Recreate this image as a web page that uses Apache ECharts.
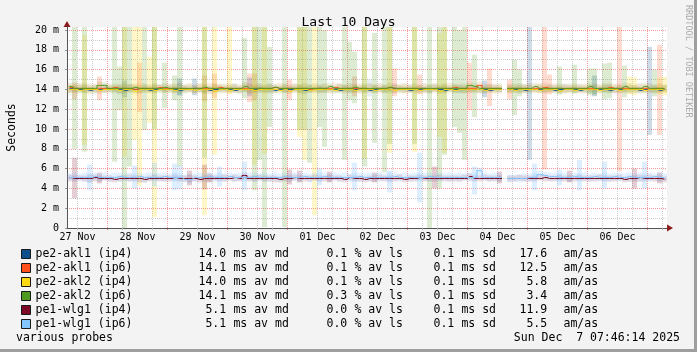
<!DOCTYPE html>
<html>
<head>
<meta charset="utf-8">
<title>Last 10 Days</title>
<script src="https://cdn.jsdelivr.net/npm/echarts@6/dist/echarts.min.js"></script>
<style>
  html, body { margin: 0; padding: 0; background: #f3f3f3; }
  #chart { width: 697px; height: 352px; }
</style>
</head>
<body>
<div id="chart"></div>
<script>
// x values are hours counted from 27 Nov 00:00
const startHour = 7 + 46 / 60 + 14 / 3600;
const spanHours = 240;
const stepHours = 2;
const yMax = 20.3;

const dayLabels = ['27 Nov', '28 Nov', '29 Nov', '30 Nov', '01 Dec', '02 Dec', '03 Dec', '04 Dec', '05 Dec', '06 Dec'];
const yMajor = [0, 2, 4, 6, 8, 10, 12, 14, 16, 18, 20];
const yMinor = [1, 3, 5, 7, 9, 11, 13, 15, 17, 19];

const hostNames = ['pe2-akl1 (ip4)', 'pe2-akl1 (ip6)', 'pe2-akl2 (ip4)', 'pe2-akl2 (ip6)', 'pe1-wlg1 (ip4)', 'pe1-wlg1 (ip6)'];
const avgMedian = ['14.0', '14.1', '14.0', '14.1', '5.1', '5.1'];
const avgLoss = ['0.1', '0.1', '0.1', '0.3', '0.0', '0.0'];
const avgSd = ['0.1', '0.1', '0.1', '0.1', '0.1', '0.1'];
const amas = ['17.6', '12.5', '5.8', '3.4', '11.9', '5.5'];
const footerLeft = 'various probes';
const footerRight = 'Sun Dec  7 07:46:14 2025';
const watermark = 'RRDTOOL / TOBI OETIKER';

// median per 2h sample (ms)
const akl1v4Median = [
  14.1,14.0,14.0,14.0,13.9,14.0,14.0,14.1,14.0,14.0,
  14.0,13.9,14.0,14.0,14.0,14.0,13.9,14.0,14.0,14.0,
  14.0,14.0,13.9,14.0,14.0,14.1,14.0,14.0,13.9,14.0,
  14.0,14.0,14.0,13.9,14.0,14.0,14.0,14.0,14.1,14.0,
  14.0,13.9,14.0,14.0,14.0,14.0,14.0,13.9,14.0,14.0,
  14.1,14.0,14.0,14.0,13.9,14.0,14.0,14.0,14.0,14.0,
  13.9,14.0,14.0,14.0,14.0,14.1,14.0,14.0,13.9,14.0,
  14.0,14.0,14.0,14.0,14.0,13.9,14.0,14.0,14.0,14.0,
  14.0,14.0,14.0,14.0,13.9,14.0,14.0,null,14.0,14.0,
  14.0,13.9,14.0,14.0,14.0,14.0,14.0,13.9,14.0,14.0,
  14.0,14.0,13.9,14.0,14.0,14.0,14.0,14.0,13.9,14.0,
  14.0,14.0,14.0,14.0,13.9,14.0,14.0,14.0,13.9,14.0];
const akl1v6Median = [
  14.2,14.1,14.1,14.1,14.1,14.0,14.1,14.1,14.1,14.2,
  14.1,14.1,14.1,14.0,14.1,14.1,14.1,14.1,14.2,14.1,
  14.1,14.1,14.1,14.1,14.0,14.1,14.1,14.1,14.1,14.1,
  14.2,14.1,14.1,14.1,14.1,14.1,14.0,14.1,14.1,14.1,
  14.1,14.2,14.1,14.1,14.1,14.1,14.1,14.1,14.0,14.1,
  14.1,14.1,14.1,14.2,14.1,14.1,14.1,14.1,14.1,14.1,
  14.0,14.1,14.1,14.1,14.2,14.1,14.1,14.1,14.1,14.1,
  14.1,14.1,14.0,14.1,14.1,14.1,14.1,14.2,14.1,14.1,
  14.1,14.1,14.4,14.1,14.1,14.1,14.1,null,14.1,14.1,
  14.1,14.1,14.0,14.1,14.1,14.2,14.1,14.1,14.1,14.1,
  14.1,14.1,14.1,14.1,14.1,14.0,14.1,14.1,14.2,14.1,
  14.1,14.1,14.1,14.1,14.1,14.1,14.0,14.1,14.1,14.1];
const akl2v4Median = [
  14.0,14.0,13.9,14.0,14.0,14.0,13.9,14.0,14.0,14.0,
  13.9,14.0,14.0,13.8,14.0,14.0,14.0,13.9,14.0,14.0,
  14.0,13.9,14.0,14.0,14.0,13.9,14.0,14.0,14.0,13.8,
  14.0,14.0,13.9,14.0,14.0,14.0,14.0,13.9,14.0,14.0,
  14.0,14.0,13.9,14.0,13.8,14.0,14.0,14.0,13.9,14.0,
  14.0,14.0,14.0,13.9,14.0,14.0,14.0,13.9,14.0,14.0,
  14.0,13.9,14.0,14.0,14.0,13.9,14.0,14.0,14.0,14.0,
  13.9,14.0,14.0,14.0,13.8,14.0,14.0,13.9,14.0,14.0,
  14.0,14.0,14.0,13.9,14.0,14.0,14.0,null,14.0,13.9,
  14.0,14.0,14.0,14.0,13.9,14.0,14.0,14.0,13.8,14.0,
  14.0,13.9,14.0,14.0,14.0,14.0,13.9,14.0,14.0,14.0,
  13.9,14.0,14.0,14.0,14.0,13.9,14.0,14.0,14.0,13.9];
const akl2v6Median = [
  14.3,14.1,14.1,14.1,14.1,14.1,14.4,14.4,14.1,14.1,
  14.1,14.1,14.1,14.2,14.1,14.1,14.1,14.1,14.1,14.2,
  14.1,14.1,14.1,14.1,14.1,14.1,14.1,14.2,14.1,14.1,
  14.1,14.1,14.1,14.1,14.1,14.3,14.1,14.1,14.1,14.1,
  14.1,14.2,14.1,14.1,14.1,14.1,14.1,14.1,14.1,14.1,
  14.1,14.1,14.3,14.1,14.1,14.1,14.1,14.2,14.1,14.1,
  14.1,14.1,14.1,14.1,14.2,14.1,14.1,14.1,14.1,14.1,
  14.1,14.1,14.1,14.1,14.1,14.1,14.1,14.1,14.1,14.1,
  14.4,14.3,14.1,14.1,14.1,14.1,14.1,null,14.1,14.1,
  14.1,14.1,14.1,14.3,14.1,14.1,14.1,14.1,14.1,14.1,
  14.1,14.1,14.1,14.1,14.3,14.1,14.1,14.1,14.1,14.1,
  14.1,14.3,14.1,14.1,14.1,14.3,14.1,14.1,14.1,14.1];
const wlg1v4Median = [
  5.1,5.0,5.0,5.0,5.0,5.1,5.0,5.0,5.0,4.9,
  5.0,5.0,5.0,5.0,5.0,4.9,5.0,5.0,5.0,5.0,
  5.0,5.1,5.0,5.0,5.0,5.0,4.9,5.0,5.0,5.0,
  5.0,5.0,5.0,5.1,5.0,5.3,5.0,5.0,5.0,5.0,
  5.0,5.0,4.9,5.0,5.0,5.1,5.0,5.0,5.0,5.0,
  5.0,5.0,5.0,5.0,5.0,4.9,5.1,5.0,5.0,4.9,
  5.0,5.0,5.0,5.0,5.0,5.0,5.0,4.9,5.0,5.0,
  5.1,5.0,5.0,5.0,5.0,5.0,5.0,5.0,5.0,5.0,
  5.2,5.0,5.0,5.0,5.0,5.0,5.0,null,5.0,5.0,
  5.0,5.0,5.0,5.0,5.0,5.1,5.0,5.0,5.0,5.0,
  5.0,5.0,5.0,5.0,5.0,5.0,5.0,5.0,5.0,5.0,
  5.0,4.9,5.0,5.0,5.1,5.0,5.0,5.0,5.0,4.9];
const wlg1v6Median = [
  5.1,5.1,5.1,5.1,5.1,5.2,5.1,5.1,5.1,5.1,
  5.2,5.1,5.1,5.1,5.2,5.1,5.1,5.1,5.1,5.2,
  5.1,5.1,5.1,4.9,4.9,5.1,5.1,5.1,5.2,5.1,
  5.1,5.1,5.2,5.1,5.1,5.1,5.1,5.2,5.1,5.1,
  5.1,5.1,5.1,5.2,5.1,5.1,5.1,5.2,5.1,5.1,
  5.1,5.2,5.1,5.1,5.1,5.1,5.1,5.1,5.2,5.1,
  5.1,5.1,5.1,5.1,5.1,5.2,5.1,5.1,5.1,5.1,
  5.1,5.1,5.2,5.1,5.1,5.1,5.1,5.1,5.1,5.1,
  5.1,5.1,5.8,5.1,5.1,5.1,5.1,null,5.0,5.0,
  5.0,5.0,5.1,5.1,5.4,5.3,5.2,5.2,5.1,5.1,
  5.1,5.2,5.1,5.1,5.1,5.2,5.1,5.1,5.1,5.2,
  5.1,5.1,5.2,5.1,5.1,5.1,5.1,5.2,5.1,5.1];

// smoke band low / high per sample (ms)
const akl1v4Low = [
  13.7,13.8,13.7,13.6,13.8,13.7,13.8,13.7,13.7,13.8,
  13.5,13.7,13.8,13.7,13.6,13.8,13.7,13.7,13.8,13.7,
  13.8,13.7,13.4,13.7,13.8,13.7,13.7,13.6,13.8,13.7,
  13.7,13.8,13.7,13.7,13.6,13.8,13.7,13.7,13.8,13.7,
  13.7,13.6,13.8,13.7,13.7,13.8,13.7,13.5,13.7,13.8,
  13.7,13.7,13.8,13.6,13.7,13.8,13.7,13.7,13.8,13.7,
  13.3,13.7,13.8,13.7,13.7,13.6,13.8,13.7,13.7,13.8,
  13.7,13.7,13.6,13.8,13.7,13.7,13.8,13.7,13.6,13.7,
  13.7,13.8,13.7,13.6,13.7,13.8,13.7,null,13.7,13.8,
  13.7,13.6,13.7,13.8,13.7,13.7,13.8,13.7,13.6,13.7,
  13.7,13.8,13.7,13.7,13.6,13.5,13.8,13.7,13.7,13.6,
  13.7,13.8,13.7,13.7,13.6,13.7,13.8,13.7,13.7,13.8];
const akl1v4High = [
  14.4,14.3,14.4,14.5,14.3,14.4,14.3,14.6,14.4,14.3,
  14.4,14.3,14.5,14.4,14.3,14.4,14.3,14.4,14.5,14.3,
  14.4,14.3,14.6,14.4,14.3,14.4,14.3,14.4,14.3,14.5,
  14.4,14.3,14.4,14.5,14.3,14.4,14.4,14.3,14.4,14.3,
  14.5,14.4,14.3,14.4,14.3,14.4,14.5,14.3,14.4,14.3,
  14.4,14.3,14.4,14.3,14.5,14.4,14.3,14.4,14.3,14.4,
  15.0,14.4,14.3,14.4,14.3,14.5,14.4,14.3,14.4,14.3,
  14.4,14.3,14.4,14.5,14.3,14.4,14.3,14.4,14.4,14.3,
  14.4,14.3,14.4,14.3,14.5,14.4,14.3,null,14.4,14.3,
  14.4,14.5,14.4,14.3,14.4,14.3,14.4,14.4,14.3,14.5,
  14.4,14.3,14.4,14.3,14.4,14.4,14.3,14.4,14.5,14.3,
  14.4,14.3,14.4,14.4,14.3,14.4,14.3,14.4,14.3,14.4];
const akl1v6Low = [
  13.7,13.6,13.8,13.7,13.6,13.7,13.5,13.7,13.8,13.7,
  13.6,13.7,13.7,13.8,13.6,13.7,13.7,13.6,13.8,13.7,
  13.7,13.6,13.7,13.8,13.7,13.6,13.7,13.7,13.5,13.7,
  13.8,13.7,13.6,13.7,13.7,13.8,13.6,13.7,13.7,13.6,
  13.7,13.7,13.8,13.6,13.7,13.7,13.6,13.8,13.7,13.7,
  13.6,13.7,13.7,13.8,13.7,13.6,13.7,13.7,13.6,13.8,
  13.7,13.7,13.6,13.7,13.8,13.7,13.7,13.6,13.7,13.7,
  13.8,13.6,13.7,13.7,13.7,13.6,13.8,13.7,13.7,13.6,
  13.7,13.7,13.6,13.7,13.8,13.7,13.6,null,13.7,13.7,
  13.6,13.7,13.8,13.7,13.7,13.6,13.7,13.7,13.8,13.6,
  13.7,13.7,13.6,13.7,13.7,13.8,13.6,13.7,13.7,13.6,
  13.7,13.6,13.7,13.8,13.7,13.7,13.6,13.7,13.7,13.7];
const akl1v6High = [
  14.6,14.5,14.6,14.7,14.5,14.6,14.8,14.5,14.6,14.5,
  14.6,14.5,14.6,14.5,14.7,14.6,14.5,14.6,14.5,14.6,
  14.5,14.6,14.7,14.5,14.6,14.5,14.6,14.5,14.7,14.6,
  14.6,14.5,14.6,14.6,14.5,14.7,14.6,14.5,14.6,14.5,
  14.6,14.5,14.7,14.6,14.5,14.6,14.5,14.6,14.5,14.6,
  14.5,14.6,14.5,14.7,14.6,14.5,14.6,14.5,14.6,14.5,
  14.6,14.5,14.6,14.5,14.7,14.6,14.5,14.6,14.5,14.6,
  14.5,14.6,14.5,14.6,14.5,14.6,14.7,14.5,14.6,14.5,
  14.6,14.5,14.8,14.6,14.5,14.6,14.5,null,14.6,14.5,
  14.6,14.5,14.6,14.5,14.6,14.7,14.5,14.6,14.5,14.6,
  14.5,14.6,14.5,14.6,14.5,14.6,14.5,14.6,14.7,14.5,
  14.6,14.5,14.6,14.5,14.6,14.5,14.6,14.5,14.6,14.5];
const akl2v4Low = [
  13.6,13.7,13.6,13.7,13.5,13.7,13.6,13.7,13.6,13.7,
  13.6,13.7,13.6,13.4,13.7,13.6,13.7,13.6,13.7,13.6,
  13.7,13.6,13.7,13.6,13.7,13.6,13.7,13.6,13.7,13.5,
  13.6,13.7,13.6,13.7,13.6,13.7,13.6,13.5,13.7,13.6,
  13.7,13.6,13.6,13.7,13.5,13.7,13.6,13.7,13.6,13.7,
  13.6,13.7,13.6,13.6,13.7,13.6,13.7,13.6,13.7,13.6,
  13.7,13.6,13.7,13.6,13.7,13.6,13.7,13.6,13.7,13.6,
  13.6,13.7,13.6,13.7,13.5,13.7,13.6,13.6,13.7,13.6,
  13.7,13.6,13.7,13.6,13.7,13.6,13.7,null,13.6,13.6,
  13.7,13.6,13.7,13.6,13.6,13.7,13.6,13.7,13.5,13.7,
  13.6,13.6,13.7,13.6,13.7,13.6,13.6,13.7,13.6,13.7,
  13.6,13.7,13.6,13.7,13.6,13.6,13.7,13.6,13.7,13.6];
const akl2v4High = [
  14.4,14.3,14.5,14.4,14.3,14.4,14.5,14.3,14.4,14.4,
  14.3,14.4,14.5,14.3,14.4,14.4,14.3,14.5,14.4,14.3,
  14.4,14.5,14.3,14.4,14.4,14.3,14.5,14.4,14.3,14.4,
  14.5,14.4,14.3,14.4,14.3,14.5,14.4,14.4,14.3,14.4,
  14.4,14.3,14.4,14.5,14.3,14.4,14.4,14.3,14.5,14.4,
  14.3,14.4,14.4,14.3,14.5,14.4,14.3,14.4,14.4,14.3,
  14.4,14.5,14.3,14.4,14.4,14.3,14.5,14.4,14.3,14.4,
  14.4,14.3,14.5,14.4,14.3,14.4,14.4,14.5,14.3,14.4,
  14.5,14.4,14.3,14.4,14.4,14.3,14.4,null,14.4,14.5,
  14.3,14.4,14.4,14.3,14.5,14.4,14.3,14.4,14.4,14.3,
  14.4,14.5,14.3,14.4,14.4,14.3,14.4,14.5,14.3,14.4,
  14.4,14.3,14.4,14.4,14.3,14.5,14.4,14.3,14.4,14.4];
const akl2v6Low = [
  13.6,13.7,13.6,13.7,13.6,13.5,13.7,13.6,13.7,13.6,
  13.7,13.6,13.7,13.6,13.6,13.7,13.6,13.7,13.6,13.7,
  13.6,13.7,13.6,13.6,13.7,13.6,13.7,13.6,13.6,13.7,
  13.7,13.6,13.7,13.6,13.6,13.7,13.5,13.7,13.6,13.7,
  13.6,13.7,13.6,13.7,13.6,13.7,13.6,13.6,13.7,13.6,
  13.7,13.6,13.6,13.7,13.6,13.7,13.6,13.7,13.6,13.6,
  13.7,13.6,13.7,13.6,13.6,13.7,13.6,13.7,13.6,13.7,
  13.6,13.7,13.6,13.7,13.6,13.6,13.7,13.6,13.7,13.6,
  13.6,13.7,13.6,13.6,13.7,13.6,13.7,null,13.6,13.7,
  13.6,13.7,13.6,13.7,13.6,13.6,13.7,13.6,13.7,13.6,
  13.7,13.6,13.7,13.6,13.6,13.7,13.6,13.7,13.6,13.7,
  13.6,13.7,13.6,13.6,13.7,13.6,13.7,13.6,13.6,13.7];
const akl2v6High = [
  14.7,14.5,14.6,14.5,14.6,14.5,14.8,14.8,14.5,14.6,
  14.5,14.6,14.5,14.6,14.5,14.6,14.5,14.6,14.5,14.6,
  14.6,14.5,14.6,14.5,14.6,14.5,14.6,14.6,14.5,14.6,
  14.5,14.6,14.5,14.6,14.5,14.7,14.6,14.5,14.6,14.5,
  14.6,14.6,14.5,14.6,14.5,14.6,14.5,14.6,14.5,14.6,
  14.5,14.6,14.7,14.5,14.6,14.5,14.6,14.6,14.5,14.6,
  14.6,14.5,14.6,14.5,14.6,14.6,14.5,14.6,14.5,14.6,
  14.5,14.6,14.5,14.6,14.5,14.6,14.5,14.6,14.5,14.6,
  14.8,14.7,14.6,14.5,14.6,14.5,14.6,null,14.5,14.6,
  14.6,14.5,14.6,14.7,14.6,14.5,14.6,14.5,14.6,14.5,
  14.6,14.5,14.6,14.5,14.7,14.6,14.5,14.6,14.5,14.6,
  14.5,14.7,14.6,14.5,14.6,14.7,14.6,14.5,14.6,14.5];
const wlg1v4Low = [
  4.7,4.7,4.8,4.7,4.6,4.7,4.7,4.8,4.7,4.6,
  4.7,4.8,4.7,4.7,4.6,4.6,4.7,4.8,4.7,4.7,
  4.7,4.8,4.7,4.7,4.6,4.7,4.6,4.7,4.7,4.8,
  4.7,4.7,4.8,4.7,4.7,4.9,4.7,4.7,4.8,4.7,
  4.7,4.6,4.6,4.7,4.7,4.8,4.7,4.7,4.7,4.8,
  4.7,4.7,4.7,4.8,4.7,4.6,4.8,4.7,4.7,4.6,
  4.7,4.7,4.8,4.7,4.7,4.7,4.8,4.6,4.7,4.7,
  4.8,4.7,4.7,4.7,4.8,4.7,4.7,4.7,4.7,4.8,
  4.8,4.7,4.7,4.8,4.7,4.7,4.7,null,4.7,4.7,
  4.8,4.7,4.7,4.7,4.8,4.7,4.7,4.7,4.8,4.7,
  4.7,4.7,4.8,4.7,4.7,4.7,4.8,4.7,4.7,4.7,
  4.8,4.6,4.7,4.7,4.7,4.7,4.8,4.7,4.7,4.6];
const wlg1v4High = [
  5.4,5.3,5.3,5.3,5.4,5.4,5.3,5.3,5.3,5.2,
  5.3,5.3,5.4,5.3,5.3,5.2,5.3,5.4,5.3,5.3,
  5.3,5.4,5.3,5.3,5.4,5.3,5.2,5.3,5.3,5.3,
  5.3,5.4,5.3,5.4,5.3,5.6,5.3,5.3,5.4,5.3,
  5.3,5.3,5.2,5.3,5.3,5.4,5.3,5.3,5.3,5.4,
  5.3,5.3,5.4,5.3,5.3,5.2,5.4,5.3,5.3,5.2,
  5.3,5.3,5.4,5.3,5.3,5.3,5.4,5.2,5.3,5.3,
  5.4,5.3,5.3,5.3,5.4,5.3,5.3,5.3,5.3,5.4,
  5.5,5.3,5.3,5.4,5.3,5.3,5.3,null,5.3,5.3,
  5.4,5.3,5.3,5.3,5.4,5.4,5.3,5.3,5.4,5.3,
  5.3,5.3,5.4,5.3,5.3,5.3,5.4,5.3,5.3,5.3,
  5.4,5.2,5.3,5.3,5.4,5.3,5.4,5.3,5.3,5.2];
const wlg1v6Low = [
  4.8,4.7,4.8,4.7,4.6,4.8,4.7,4.8,4.7,4.8,
  4.7,4.8,4.7,4.8,4.7,4.6,4.8,4.7,4.8,4.7,
  4.8,4.7,4.8,4.6,4.5,4.7,4.8,4.7,4.8,4.7,
  4.8,4.7,4.8,4.7,4.8,4.7,4.8,4.7,4.8,4.7,
  4.7,4.8,4.7,4.8,4.7,4.8,4.7,4.8,4.6,4.8,
  4.7,4.8,4.7,4.8,4.7,4.8,4.7,4.8,4.7,4.8,
  4.7,4.8,4.7,4.8,4.6,4.8,4.7,4.8,4.7,4.8,
  4.7,4.8,4.7,4.8,4.7,4.8,4.7,4.8,4.7,4.8,
  4.7,4.8,4.9,4.8,4.7,4.8,4.7,null,4.6,4.7,
  4.6,4.7,4.7,4.8,4.9,4.9,4.8,4.8,4.7,4.8,
  4.7,4.8,4.7,4.8,4.7,4.8,4.7,4.8,4.7,4.8,
  4.7,4.8,4.7,4.8,4.7,4.8,4.7,4.8,4.7,4.8];
const wlg1v6High = [
  5.5,5.6,5.5,5.6,5.5,5.6,5.5,5.6,5.5,5.6,
  5.6,5.5,5.6,5.5,5.6,5.5,5.6,5.5,5.6,5.6,
  5.5,5.6,5.5,5.4,5.4,5.5,5.6,5.5,5.6,5.5,
  5.6,5.5,5.6,5.5,5.6,5.5,5.6,5.6,5.5,5.6,
  5.5,5.6,5.5,5.6,5.5,5.6,5.5,5.6,5.5,5.6,
  5.6,5.6,5.5,5.6,5.5,5.6,5.5,5.6,5.6,5.5,
  5.6,5.5,5.6,5.5,5.6,5.6,5.5,5.6,5.5,5.6,
  5.5,5.6,5.6,5.5,5.6,5.5,5.6,5.5,5.6,5.5,
  5.6,5.5,6.1,5.6,5.5,5.6,5.5,null,5.4,5.4,
  5.4,5.5,5.5,5.6,5.8,5.7,5.6,5.6,5.5,5.6,
  5.5,5.6,5.5,5.6,5.5,5.6,5.5,5.6,5.5,5.6,
  5.6,5.5,5.6,5.5,5.6,5.5,5.6,5.5,5.6,5.5];

// wide smoke excursions: [sample index, low ms, high ms]
const akl1v4Spikes = [[11,13.2,14.9],[22,13.4,15.1],[25,13.4,15.1],[36,13.3,15.2],[83,13.2,14.9],
  [92,6.9,21],[105,13.3,15.4],[116,9.4,18.3]];
const akl1v6Spikes = [[1,13.0,14.7],[6,12.9,15.3],[14,11.7,16.7],[27,12.8,15.4],[29,13.1,15.6],
  [36,12.7,15.6],[37,12.9,15.6],[44,12.9,15.0],[57,13.3,15.3],[65,13.3,16.1],[70,13.5,15.5],
  [80,11.9,16.7],[84,12.3,16.1],[88,13.0,15.0],[95,5.9,21],[96,13.5,15.5],[110,5.7,21],[118,9.4,18.5]];
const akl2v4Spikes = [[3,8.4,19.5],[11,7.2,21],[13,8.9,21],[14,4.3,21],[16,10.6,17.3],[17,1.1,21],
  [27,1.3,21],[29,7.4,21],[32,13.5,21],[37,6.4,21],[39,7.5,21],[46,9.2,21],[47,6.9,21],[49,1.3,21],
  [59,7.0,21],[64,7.6,21],[69,7.7,21],[74,9.2,19.7],[75,7.6,21],[112,13.5,15.3],[113,13.4,15.2],
  [118,13.5,15.2],[119,13.4,15.3]];
const akl2v6Spikes = [[1,8.0,21],[3,7.7,21],[9,6.7,21],[10,11.9,16.3],[11,0,21],[12,6.2,21],[15,9.9,21],
  [17,10.0,21],[19,12.1,16.7],[21,12.9,15.4],[22,6.2,21],[27,7.1,21],[35,13.1,19.2],[37,3.8,21],
  [38,6.9,21],[39,0.1,21],[40,10.2,18.3],[43,0.1,21],[46,9.9,21],[47,9.9,21],[48,6.6,21],[50,10.2,21],
  [51,8.2,20],[55,6.9,21],[56,12.9,18.8],[57,12.6,17.8],[59,6.2,21],[61,8.6,19.7],[63,5.6,21],
  [64,8.5,21],[69,8.5,21],[72,0,21],[74,4.0,21],[75,7.4,21],[77,10.2,20.5],[78,9.6,20],[79,6.9,21],
  [81,11.2,17.5],[89,11.4,17],[90,13.3,16.0],[98,13.5,16.3],[101,13.6,16.5],[104,13.4,16.1],
  [105,13.4,16.1],[107,13.0,16.6],[108,13.1,16.7],[111,13.2,16.4],[117,13.3,16.0]];
const wlg1v4Spikes = [[1,3.0,7.1],[6,4.5,5.6],[24,4.3,5.8],[27,3.9,6.4],[28,4.6,5.5],[44,4.4,5.9],
  [46,4.6,5.8],[52,4.6,5.7],[61,4.6,5.6],[73,4.0,6.2],[86,4.5,5.7],[100,4.6,5.8],[113,4.0,6.0],[118,4.5,5.6]];
const wlg1v6Spikes = [[4,3.8,6.4],[13,4.0,6.3],[17,4.2,6.6],[21,3.8,6.5],[22,3.9,6.3],[30,4.2,6.2],
  [35,3.8,6.7],[50,4.3,6.0],[57,3.8,6.6],[64,3.6,5.8],[70,2.6,7.6],[81,3.4,6.2],[93,3.8,6.5],
  [98,4.3,5.9],[102,3.8,6.9],[107,4.0,6.7],[115,4.0,6.7]];

const hosts = [
  { color: '#0c4f8c', rgb: '12,79,140', band: 0.1, spike: 0.2, med: akl1v4Median, lo: akl1v4Low, hi: akl1v4High, spikes: akl1v4Spikes },
  { color: '#ff4f1c', rgb: '255,79,28', band: 0.1, spike: 0.2, med: akl1v6Median, lo: akl1v6Low, hi: akl1v6High, spikes: akl1v6Spikes },
  { color: '#ffd90f', rgb: '255,217,15', band: 0.12, spike: 0.22, med: akl2v4Median, lo: akl2v4Low, hi: akl2v4High, spikes: akl2v4Spikes },
  { color: '#4e9a20', rgb: '78,154,32', band: 0.1, spike: 0.2, med: akl2v6Median, lo: akl2v6Low, hi: akl2v6High, spikes: akl2v6Spikes },
  { color: '#7c0a25', rgb: '124,10,37', band: 0.14, spike: 0.2, med: wlg1v4Median, lo: wlg1v4Low, hi: wlg1v4High, spikes: wlg1v4Spikes },
  { color: '#84c6ff', rgb: '132,198,255', band: 0.22, spike: 0.28, med: wlg1v6Median, lo: wlg1v6Low, hi: wlg1v6High, spikes: wlg1v6Spikes }
];

const font = '"DejaVu Sans Mono", monospace';
const endHour = startHour + spanHours;
const sampleHours = akl1v4Median.map((v, i) => startHour + stepHours * (i + 0.5));

const labelHours = dayLabels.map((d, i) => 12 + 24 * i);
const midnightHours = [];
const minorHours = [];
for (let h = 6; h < endHour; h += 6) {
  if (h < startHour) continue;
  if (h % 24 === 0) midnightHours.push(h); else minorHours.push(h);
}

function smokeItem(params, api) {
  const t = api.value(0), lo = api.value(1), hi = api.value(2);
  if (isNaN(lo) || isNaN(hi)) return null;
  const p0 = api.coord([t - stepHours / 2, hi]);
  const p1 = api.coord([t + stepHours / 2, lo]);
  const cs = params.coordSys;
  const rect = echarts.graphic.clipRectByRect(
    { x: p0[0], y: p0[1], width: p1[0] - p0[0], height: p1[1] - p0[1] },
    { x: cs.x, y: cs.y, width: cs.width, height: cs.height });
  if (!rect) return null;
  return { type: 'rect', shape: rect, style: { fill: api.visual('color') } };
}

const series = [];
hosts.forEach((h, k) => {
  series.push({
    name: 'band ' + hostNames[k],
    type: 'custom',
    renderItem: smokeItem,
    itemStyle: { color: 'rgba(' + h.rgb + ',' + h.band + ')' },
    encode: { x: 0, y: [1, 2] },
    data: sampleHours.map((t, i) => [t, h.lo[i], h.hi[i]]),
    silent: true,
    z: 2
  });
  series.push({
    name: 'spikes ' + hostNames[k],
    type: 'custom',
    renderItem: smokeItem,
    itemStyle: { color: 'rgba(' + h.rgb + ',' + h.spike + ')' },
    encode: { x: 0, y: [1, 2] },
    data: h.spikes.map(s => [sampleHours[s[0]], s[1], s[2]]),
    silent: true,
    z: 2
  });
});
hosts.forEach((h, k) => {
  series.push({
    name: hostNames[k],
    type: 'line',
    step: 'middle',
    showSymbol: false,
    symbol: 'none',
    connectNulls: false,
    itemStyle: { color: h.color },
    lineStyle: { color: h.color, width: 1 },
    data: sampleHours.map((t, i) => [t, h.med[i]]),
    silent: true,
    z: 3
  });
});

// columns of the legend line; numbers are space padded so the monospace digits line up
const rich = {
  n: { width: 163 },
  a: { width: 28 },
  b: { width: 100 },
  c: { width: 21 },
  d: { width: 86 },
  e: { width: 21 },
  f: { width: 65 },
  g: { width: 44 },
  h: {}
};
Object.keys(rich).forEach(k => {
  Object.assign(rich[k], { fontFamily: font, fontSize: 11.5, color: '#000', lineHeight: 14, align: 'left' });
});
const pad = (s, n) => s.padStart(n, ' ');

const option = {
  animation: false,
  backgroundColor: '#f3f3f3',
  title: {
    text: 'Last 10 Days',
    left: 'center',
    top: 11,
    textStyle: { fontFamily: font, fontSize: 13, fontWeight: 'normal', color: '#000' }
  },
  grid: {
    left: 67, right: 30, top: 27, bottom: 124,
    outerBoundsMode: 'none',
    show: true, backgroundColor: '#ffffff', borderWidth: 0
  },
  legend: {
    data: hostNames,
    orient: 'vertical',
    left: 16,
    top: 242,
    itemGap: 0,
    itemWidth: 9,
    itemHeight: 9,
    icon: 'rect',
    selectedMode: false,
    itemStyle: { borderColor: '#1a1a1a', borderWidth: 1 },
    textStyle: { fontFamily: font, fontSize: 11.5, color: '#000', lineHeight: 14, rich: rich },
    formatter: name => {
      const i = hostNames.indexOf(name);
      return '{n|' + name + '}{a|' + pad(avgMedian[i], 4) + '}{b| ms av md}{c|' + pad(avgLoss[i], 3) +
        '}{d| % av ls}{e|' + pad(avgSd[i], 3) + '}{f| ms sd}{g|' + pad(amas[i], 4) + '}{h|am/as}';
    }
  },
  xAxis: [
    {
      type: 'value', min: startHour, max: endHour, position: 'bottom', z: 1,
      axisLine: { show: true, onZero: false, lineStyle: { color: '#555555', width: 1 } },
      axisTick: { show: true, customValues: minorHours, length: 2, lineStyle: { color: '#bbbbbb' } },
      axisLabel: {
        customValues: labelHours,
        formatter: v => dayLabels[Math.round((v - 12) / 24)],
        fontFamily: font, fontSize: 10, color: '#000', margin: 4
      },
      splitLine: { show: true, lineStyle: { color: '#cccccc', width: 1, type: [1, 1] } }
    },
    {
      type: 'value', min: startHour, max: endHour, position: 'bottom', z: 0,
      axisLine: {
        show: true, onZero: false,
        symbol: ['none', 'triangle'], symbolSize: [7, 6], symbolOffset: [0, 3],
        lineStyle: { color: '#8b1a1a', width: 1 }
      },
      axisTick: { show: true, customValues: midnightHours, length: 2, lineStyle: { color: '#f08080' } },
      axisLabel: { show: false },
      splitLine: { show: true, lineStyle: { color: '#f49a9a', width: 1, type: [1, 1] } }
    }
  ],
  yAxis: [
    {
      type: 'value', min: 0, max: yMax, position: 'left', z: 1,
      name: 'Seconds', nameLocation: 'middle', nameGap: 49, nameRotate: 90,
      nameTextStyle: { fontFamily: font, fontSize: 11.5, color: '#000' },
      axisLine: { show: true, onZero: false, lineStyle: { color: '#555555', width: 1 } },
      axisTick: { show: true, customValues: yMajor, length: 2, lineStyle: { color: '#999999' } },
      axisLabel: {
        customValues: yMajor,
        formatter: v => (v === 0 ? '0' : v + ' m'),
        fontFamily: font, fontSize: 10, color: '#000', margin: 8
      },
      splitLine: { show: true, lineStyle: { color: '#f49a9a', width: 1, type: [1, 1] } }
    },
    {
      type: 'value', min: 0, max: yMax, position: 'left', z: 0,
      axisLine: {
        show: true, onZero: false,
        symbol: ['none', 'triangle'], symbolSize: [7, 6], symbolOffset: [0, 3],
        lineStyle: { color: '#8b1a1a', width: 1 }
      },
      axisTick: { show: false, customValues: yMinor },
      axisLabel: { show: false },
      splitLine: { show: true, lineStyle: { color: '#cccccc', width: 1, type: [1, 1] } }
    }
  ],
  graphic: [
    { type: 'rect', right: 0, top: 0, shape: { width: 3, height: 352 }, style: { fill: '#9e9e9e' }, silent: true },
    { type: 'rect', left: 0, bottom: 0, shape: { width: 697, height: 3 }, style: { fill: '#9e9e9e' }, silent: true },
    {
      type: 'text', x: 16, y: 338, silent: true,
      style: { text: footerLeft, font: '11.5px ' + font, fill: '#000', textAlign: 'left', textVerticalAlign: 'middle' }
    },
    {
      type: 'text', x: 680, y: 338, silent: true,
      style: { text: footerRight, font: '11.5px ' + font, fill: '#000', textAlign: 'right', textVerticalAlign: 'middle' }
    },
    {
      type: 'text', x: 688, y: 5, rotation: -Math.PI / 2, silent: true,
      style: { text: watermark, font: '8.5px ' + font, fill: '#ababab', textAlign: 'left', textVerticalAlign: 'middle' }
    }
  ],
  series: series
};

const chart = echarts.init(document.getElementById('chart'));
chart.setOption(option);
</script>
</body>
</html>
